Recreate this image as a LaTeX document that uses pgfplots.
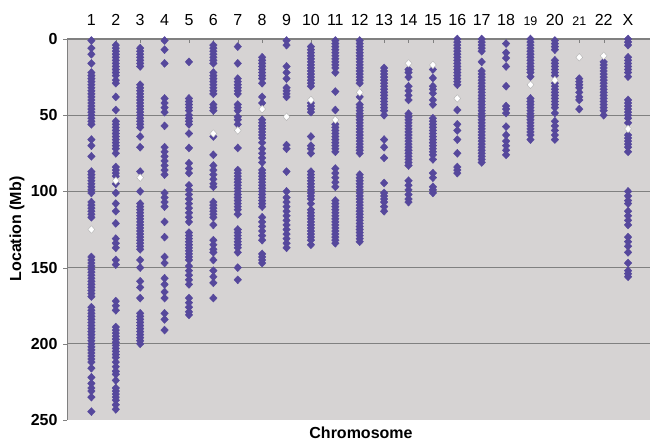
\documentclass[border=0pt]{standalone}
\usepackage{fontspec}
\setmainfont{Liberation Sans}
\usepackage{pgfplots}
\pgfplotsset{compat=1.18}
\definecolor{bg}{RGB}{214,211,211}
\definecolor{pts}{RGB}{86,72,156}
\definecolor{gridc}{RGB}{128,128,128}
\begin{document}
\begin{tikzpicture}[x=1pt,y=1pt]
\path[use as bounding box] (-67,-22) rectangle (583,420);
\begin{axis}[at={(0,0)}, anchor=south west, scale only axis,
  width=583pt, height=381pt,
  xmin=0, xmax=23.9, ymin=0, ymax=250, y dir=reverse,
  axis background/.style={fill=bg},
  axis line style={draw=none},
  xtick={1,...,23},
  xticklabels={1,2,3,4,5,6,7,8,9,10,11,12,13,14,15,16,17,18,{\fontsize{12.5}{12.5}\selectfont 19},20,{\fontsize{12.5}{12.5}\selectfont 21},22,X},
  xticklabel pos=right,
  xtick pos=right,
  xtick align=inside,
  xticklabel style={font=\fontsize{16}{16}\selectfont, anchor=base, yshift=14pt},
  ytick={0,50,100,150,200,250},
  ytick pos=left,
  ytick align=outside,
  yticklabel style={font=\bfseries\fontsize{16}{16}\selectfont, xshift=-2pt},
  major tick length=4pt,
  tick style={gridc},
  /pgf/number format/assume math mode=true,
  extra y ticks={0,50,100,150,200},
  extra y tick labels={},
  extra y tick style={grid=major, major grid style={gridc, line width=1.3pt}, major tick length=0pt},
  clip=false,
]
\draw[gridc, line width=1pt] (rel axis cs:0,0) -- (rel axis cs:0,1);
\addplot[only marks, mark=diamond*, mark size=4pt, mark options={fill=pts, draw=pts, xscale=1.25}] coordinates {
(1,1)(1,6)(1,10)(1,16)(1,22)(1,24)(1,26)(1,28)(1,30)(1,32)(1,34)(1,36)(1,38)(1,40)(1,42)(1,44)(1,46)(1,48)(1,50)(1,52)(1,54)(1,56)(1,66)(1,70)(1,77)(1,87)(1,89)(1,91)(1,93)(1,95)(1,97)(1,99)(1,101)(1,107)(1,109)(1,111)(1,113)(1,115)(1,117)(1,143)(1,145)(1,147)(1,149)(1,151)(1,153)(1,155)(1,157)(1,159)(1,161)(1,163)(1,165)(1,167)(1,169)(1,176)(1,178)(1,180)(1,182)(1,184)(1,186)(1,188)(1,190)(1,192)(1,194)(1,196)(1,198)(1,200)(1,202)(1,204)(1,206)(1,208)(1,210)(1,212)(1,216)(1,222)(1,226)(1,229)(1,231)(1,235)(1,244.5)
(2,4)(2,6)(2,8)(2,10)(2,12)(2,14)(2,16)(2,18)(2,20)(2,22)(2,24)(2,27)(2,29)(2,38)(2,46.6)(2,54)(2,56)(2,58)(2,60)(2,62)(2,64)(2,66)(2,68)(2,70)(2,72)(2,75)(2,84)(2,86)(2,88)(2,90)(2,95)(2,101)(2,108)(2,113)(2,121)(2,131)(2,134)(2,137)(2,145)(2,148)(2,172)(2,175)(2,178)(2,189)(2,191)(2,193)(2,195)(2,197)(2,199)(2,201)(2,203)(2,205)(2,207)(2,209)(2,212)(2,215)(2,218)(2,220)(2,224)(2,229)(2,231)(2,233)(2,235)(2,237)(2,240)(2,243)
(3,6)(3,8)(3,10)(3,12)(3,14)(3,16)(3,18)(3,30)(3,32)(3,34)(3,36)(3,38)(3,40)(3,42)(3,44)(3,46)(3,48)(3,50)(3,52)(3,54)(3,56)(3,58)(3,64)(3,71)(3,87)(3,100)(3,108)(3,110)(3,112)(3,114)(3,116)(3,118)(3,120)(3,122)(3,124)(3,126)(3,128)(3,130)(3,132)(3,134)(3,136)(3,138)(3,145)(3,150)(3,159)(3,163)(3,170)(3,180)(3,182)(3,184)(3,186)(3,188)(3,190)(3,192)(3,194)(3,196)(3,198)(3,200)
(4,1)(4,7)(4,16)(4,39)(4,42)(4,45)(4,48)(4,57)(4,71)(4,74)(4,77)(4,80)(4,83)(4,86)(4,89)(4,101)(4,104)(4,107)(4,110)(4,120)(4,130)(4,143)(4,147)(4,157)(4,161)(4,166)(4,170)(4,180)(4,184)(4,191)
(5,15)(5,39)(5,41)(5,43)(5,45)(5,47)(5,50)(5,52)(5,54)(5,56)(5,62)(5,71.5)(5,81.5)(5,85)(5,88)(5,96)(5,99)(5,102)(5,105)(5,108)(5,111)(5,114)(5,117)(5,120)(5,127)(5,129)(5,131)(5,133)(5,135)(5,137)(5,139)(5,141)(5,143)(5,145)(5,149)(5,152)(5,155)(5,158)(5,161)(5,170)(5,173)(5,176)(5,179)(5,181)
(6,4)(6,6)(6,8)(6,10)(6,12)(6,14)(6,16)(6,22)(6,24)(6,26)(6,28)(6,30)(6,32)(6,34)(6,36)(6,43)(6,45)(6,47)(6,64)(6,76)(6,83)(6,86)(6,89)(6,92)(6,95)(6,97)(6,107)(6,109)(6,111)(6,113)(6,115)(6,117)(6,122)(6,132)(6,135)(6,138)(6,140)(6,145)(6,152)(6,156)(6,160)(6,170)
(7,5)(7,16)(7,26)(7,28)(7,30)(7,32)(7,34)(7,36)(7,43)(7,45)(7,47)(7,51)(7,53)(7,56)(7,71.5)(7,86)(7,88)(7,90)(7,92)(7,94)(7,96)(7,98)(7,100)(7,102)(7,104)(7,106)(7,108)(7,110)(7,112)(7,115)(7,125)(7,127)(7,129)(7,131)(7,133)(7,135)(7,137)(7,140)(7,150)(7,158)
(8,12)(8,14)(8,16)(8,18)(8,20)(8,22)(8,24)(8,26)(8,29)(8,38)(8,42)(8,53)(8,55)(8,57)(8,59)(8,61)(8,63)(8,65)(8,68)(8,72)(8,75)(8,78)(8,81)(8,86)(8,88)(8,90)(8,92)(8,94)(8,96)(8,98)(8,100)(8,102)(8,104)(8,106)(8,108)(8,110)(8,117)(8,120)(8,123)(8,126)(8,129)(8,132)(8,141)(8,143)(8,145)(8,147)
(9,1)(9,4)(9,18)(9,22)(9,26)(9,32)(9,34)(9,36)(9,38)(9,69.6)(9,72)(9,87)(9,100)(9,104)(9,107)(9,110)(9,113)(9,116)(9,119)(9,122)(9,125)(9,128)(9,131)(9,134)(9,137)
(10,5)(10,7)(10,9)(10,11)(10,13)(10,15)(10,17)(10,19)(10,21)(10,23)(10,25)(10,27)(10,29)(10,31)(10,42)(10,44)(10,46)(10,48)(10,64)(10,70)(10,72)(10,75)(10,87)(10,89)(10,91)(10,93)(10,95)(10,97)(10,99)(10,101)(10,103)(10,105)(10,108)(10,112)(10,114)(10,116)(10,118)(10,120)(10,122)(10,124)(10,126)(10,128)(10,130)(10,132)(10,135)
(11,1)(11,3)(11,5)(11,7)(11,9)(11,11)(11,13)(11,15)(11,17)(11,19)(11,22)(11,34.5)(11,46.6)(11,56)(11,58)(11,60)(11,62)(11,64)(11,66)(11,68)(11,70)(11,72)(11,74)(11,85)(11,88)(11,91)(11,94)(11,97)(11,106)(11,108)(11,110)(11,112)(11,114)(11,116)(11,118)(11,120)(11,122)(11,124)(11,126)(11,128)(11,130)(11,132)(11,134)
(12,1)(12,3)(12,5)(12,7)(12,9)(12,11)(12,13)(12,15)(12,17)(12,19)(12,21)(12,23)(12,25)(12,27)(12,29)(12,38)(12,43)(12,45)(12,47)(12,49)(12,51)(12,53)(12,55)(12,57)(12,59)(12,61)(12,63)(12,65)(12,67)(12,69)(12,71)(12,73)(12,75)(12,89)(12,91)(12,93)(12,95)(12,97)(12,99)(12,101)(12,103)(12,105)(12,107)(12,109)(12,111)(12,113)(12,115)(12,117)(12,119)(12,121)(12,123)(12,125)(12,127)(12,129)(12,131)(12,133)
(13,19)(13,21)(13,23)(13,25)(13,27)(13,29)(13,31)(13,33)(13,35)(13,37)(13,39)(13,41)(13,43)(13,45)(13,47)(13,50)(13,66)(13,71)(13,78)(13,94.5)(13,101)(13,103)(13,105)(13,107)(13,110)(13,113)
(14,20)(14,22)(14,25)(14,31)(14,34)(14,37)(14,40)(14,49)(14,51)(14,53)(14,55)(14,57)(14,59)(14,61)(14,63)(14,65)(14,67)(14,69)(14,71)(14,73)(14,75)(14,77)(14,79)(14,81)(14,83)(14,93)(14,96)(14,99)(14,102)(14,105)(14,107)
(15,20)(15,25.6)(15,31)(15,33)(15,35.6)(15,40)(15,43)(15,52)(15,54)(15,56)(15,58)(15,60)(15,62)(15,64)(15,66)(15,68)(15,70)(15,72)(15,74)(15,76)(15,79)(15,88)(15,91)(15,97)(15,99)(15,101)
(16,0)(16,2)(16,4)(16,6)(16,8)(16,10)(16,12)(16,14)(16,16)(16,18)(16,20)(16,22)(16,24)(16,26)(16,28)(16,30)(16,46.6)(16,56)(16,60)(16,66)(16,75)(16,84)(16,86)(16,88)
(17,0)(17,2)(17,4)(17,6)(17,8)(17,15)(17,21)(17,23)(17,25)(17,27)(17,29)(17,31)(17,33)(17,35)(17,37)(17,39)(17,41)(17,43)(17,45)(17,47)(17,49)(17,51)(17,53)(17,55)(17,57)(17,59)(17,61)(17,63)(17,65)(17,67)(17,69)(17,71)(17,73)(17,75)(17,77)(17,79)(17,81)
(18,3)(18,9)(18,12.5)(18,18)(18,31)(18,44)(18,46)(18,48.6)(18,57.5)(18,63)(18,67)(18,70)(18,73)(18,76)
(19,0)(19,2)(19,4)(19,6)(19,8)(19,10)(19,12)(19,14)(19,16)(19,18)(19,20)(19,22)(19,24.7)(19,39)(19,41)(19,43)(19,45)(19,47)(19,49)(19,51)(19,53)(19,55)(19,57)(19,59)(19,61)(19,63)(19,66)
(20,1)(20,3)(20,5)(20,7)(20,14)(20,16)(20,18)(20,20)(20,22)(20,24)(20,29)(20,31)(20,33)(20,35)(20,37)(20,39)(20,41)(20,43)(20,45)(20,48.6)(20,54)(20,57)(20,60)(20,63)(20,66)
(21,26)(21,28)(21,30)(21,32)(21,35)(21,38)(21,40)(21,46)
(22,15)(22,17)(22,19)(22,21)(22,23)(22,25)(22,27)(22,29)(22,31)(22,33)(22,35)(22,37)(22,39)(22,41)(22,43)(22,45)(22,47)(22,50)
(23,0)(23,2)(23,4)(23,12)(23,14)(23,16)(23,18)(23,20)(23,22)(23,24.7)(23,40)(23,42)(23,44)(23,46)(23,48)(23,50)(23,52)(23,55)(23,63)(23,65)(23,67)(23,69)(23,71)(23,74)(23,100)(23,103)(23,106)(23,108)(23,113)(23,116)(23,119)(23,122)(23,130)(23,133)(23,136)(23,140)(23,147)(23,152)(23,154)(23,156)
};
\addplot[only marks, mark=diamond*, mark size=3.8pt, mark options={fill=white, draw=gray!60, line width=0.4pt, xscale=1.2}] coordinates {
(1,125)(2,93)(3,91)(6,62)(7,60)(8,46)(9,51)(10,40)(11,53)(12,35)(14,16)(15,17)(16,39)(19,30)(20,27)(21,12)(22,11)(23,59)
};
\end{axis}
\node[rotate=90, font=\bfseries\fontsize{16}{16}\selectfont] at (-50,191) {Location (Mb)};
\node[font=\bfseries\fontsize{16}{16}\selectfont] at (294,-13) {Chromosome};
\end{tikzpicture}
\end{document}
